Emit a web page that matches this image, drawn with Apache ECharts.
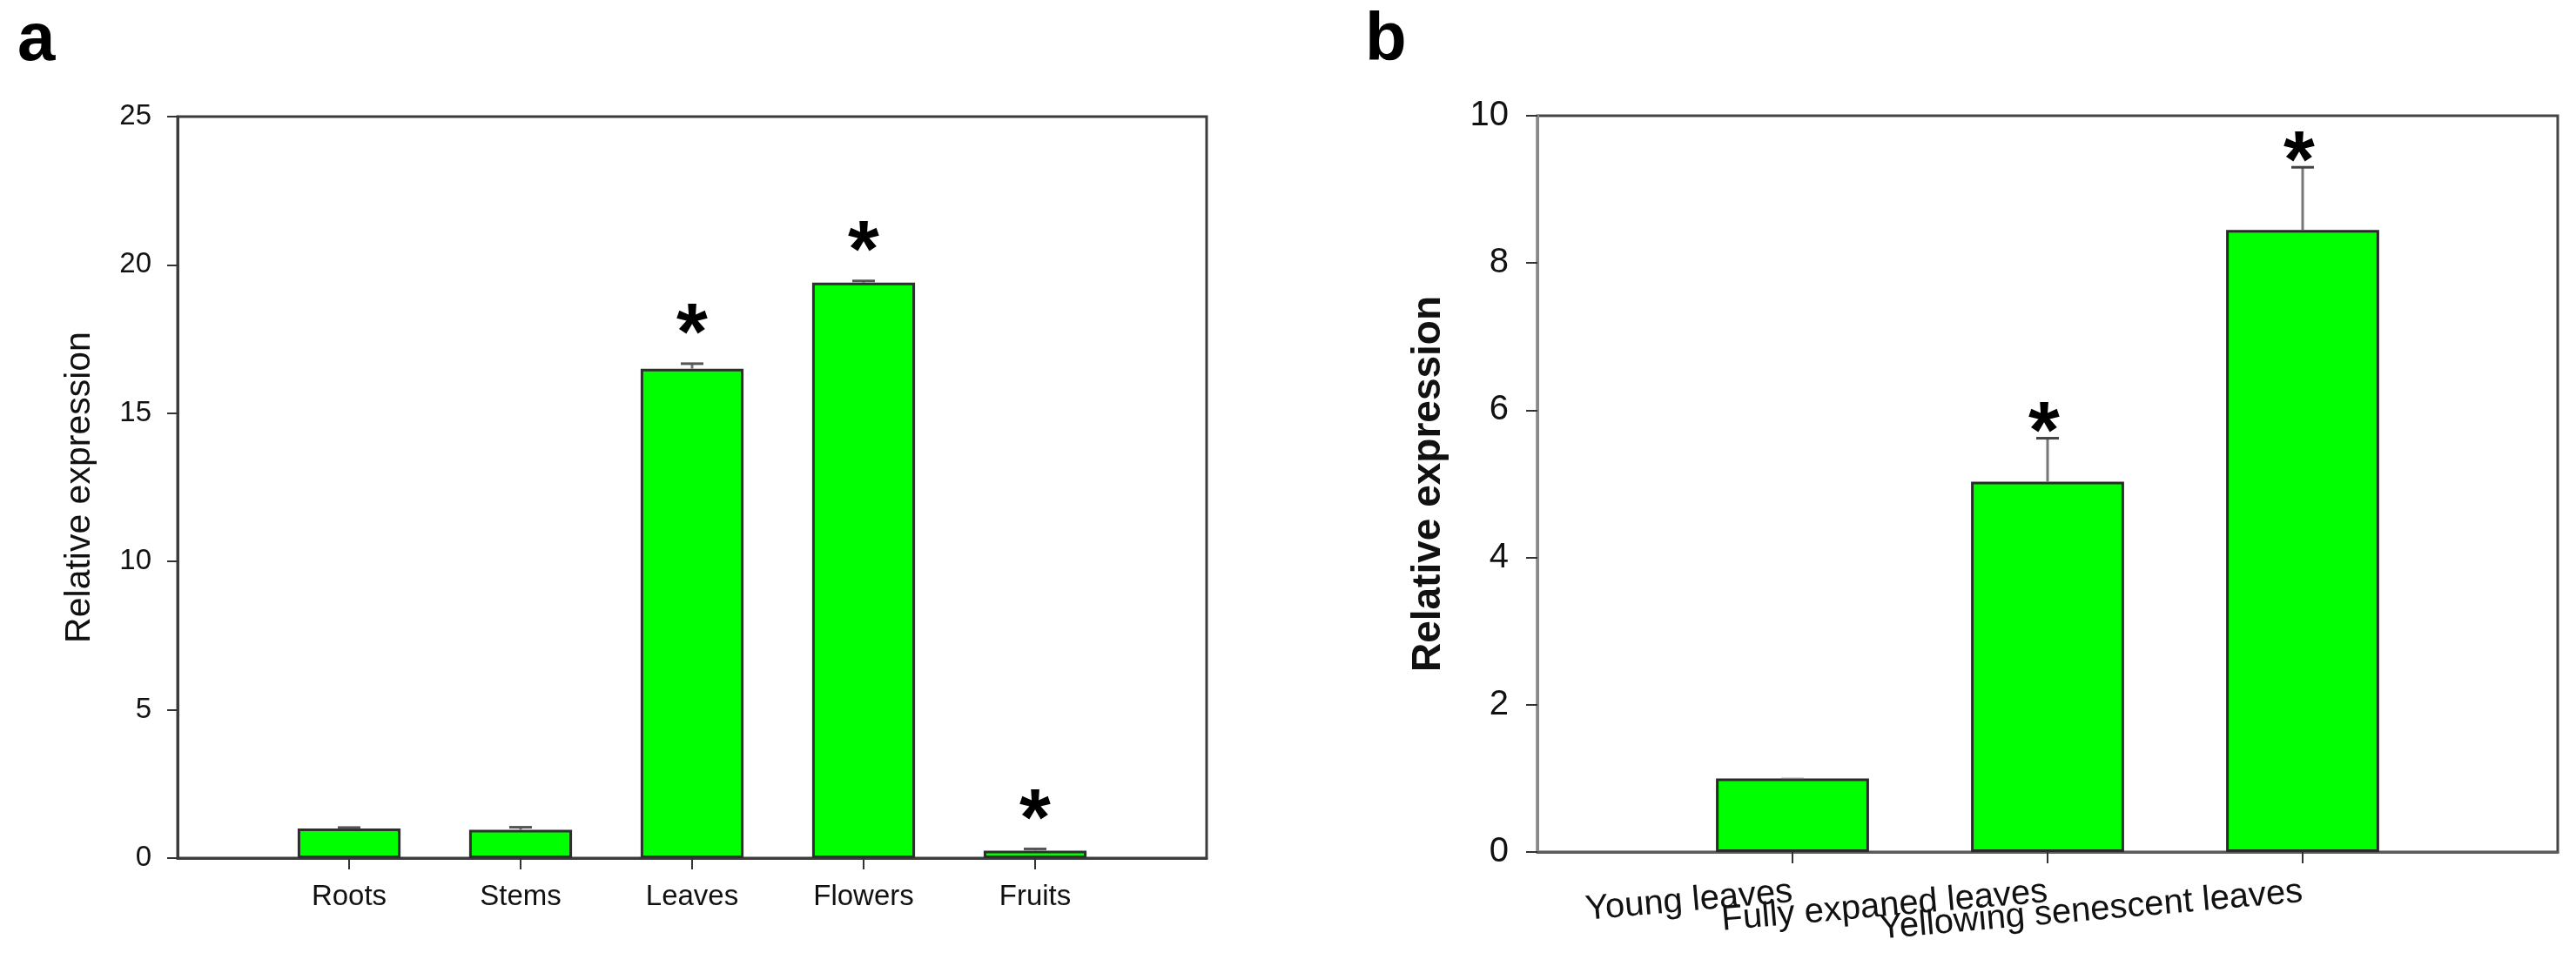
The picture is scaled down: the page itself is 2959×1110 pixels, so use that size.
<!DOCTYPE html>
<html>
<head>
<meta charset="utf-8">
<script src="https://cdn.jsdelivr.net/npm/echarts@6/dist/echarts.min.js"></script>
<style>html,body{margin:0;padding:0;background:#fff}#c{width:2959px;height:1110px}</style>
</head>
<body>
<div id="c"></div>
<script>
// ---- Panel a data ----
const catsA = ['Roots', 'Stems', 'Leaves', 'Flowers', 'Fruits'];
const valsA = [1.0, 0.95, 16.5, 19.4, 0.25];
const errsA = [0.03, 0.09, 0.17, 0.06, 0.06];
const sigA = [0, 0, 1, 1, 1];
const ticksA = [0, 5, 10, 15, 20, 25];

// ---- Panel b data ----
const catsB = ['Young leaves', 'Fully expaned leaves', 'Yellowing senescent leaves'];
const valsB = [1.0, 5.03, 8.45];
const errsB = [0.0, 0.59, 0.85];
const sigB = [0, 1, 1];
const ticksB = [0, 2, 4, 6, 8, 10];

const FONT = "'Liberation Sans', Arial, Helvetica, sans-serif";

// padded category lists: an empty slot at each end
const padA = [''].concat(catsA, ['']);
const padB = [''].concat(catsB, ['']);
const barDataA = ['-'].concat(valsA, ['-']);
const barDataB = ['-'].concat(valsB, ['-']);
const errDataA = catsA.map((c, i) => [i + 1, valsA[i], errsA[i], sigA[i]]);
const errDataB = catsB.map((c, i) => [i + 1, valsB[i], errsB[i], sigB[i]]);

function errRenderer(opts) {
  return function (params, api) {
    const idx = api.value(0), v = api.value(1), e = api.value(2), s = api.value(3);
    const base = api.coord([idx, v]);
    const top = api.coord([idx, v + e]);
    const children = [];
    if (e > 0) {
      children.push({type: 'line', shape: {x1: base[0], y1: base[1], x2: top[0], y2: top[1]},
        style: {stroke: opts.lineColor, lineWidth: 3}});
      children.push({type: 'line', shape: {x1: top[0] - 13, y1: top[1], x2: top[0] + 13, y2: top[1]},
        style: {stroke: opts.capColor, lineWidth: 3}});
    } else {
      children.push({type: 'line', shape: {x1: top[0] - 13, y1: top[1], x2: top[0] + 13, y2: top[1]},
        style: {stroke: 'rgba(120,120,120,0.5)', lineWidth: 2}});
    }
    if (s) {
      children.push({type: 'text', style: {text: '*', x: top[0] + opts.starDx, y: top[1] - opts.starGap,
        textAlign: 'center', textVerticalAlign: 'middle', fill: '#000',
        font: 'bold ' + opts.starSize + 'px ' + FONT}});
    }
    return {type: 'group', children: children};
  };
}

const chart = echarts.init(document.getElementById('c'), null, {renderer: 'canvas'});

const option = {
  backgroundColor: '#ffffff',
  animation: false,
  graphic: [
    {type: 'text', left: 20, top: 8, style: {text: 'a', font: 'bold 78px ' + FONT, fill: '#000'}},
    {type: 'text', left: 1568, top: 8, style: {text: 'b', font: 'bold 78px ' + FONT, fill: '#000'}}
  ],
  grid: [
    {left: 204, top: 134, width: 1182, height: 852, show: true, borderColor: '#3c3c3c', borderWidth: 3, backgroundColor: 'transparent'},
    {left: 1766, top: 133, width: 1172, height: 846, show: true, borderColor: '#444', borderWidth: 3, backgroundColor: 'transparent'}
  ],
  xAxis: [
    {
      type: 'category', gridIndex: 0, data: padA, boundaryGap: false,
      axisLine: {show: true, lineStyle: {color: '#3c3c3c', width: 3}},
      axisTick: {show: true, inside: false, length: 13, lineStyle: {color: '#333', width: 2},
        interval: function (i, v) { return v !== ''; }},
      axisLabel: {show: true, interval: 0, margin: 28, fontSize: 33, fontFamily: FONT, color: '#111'},
      splitLine: {show: false}
    },
    {
      type: 'category', gridIndex: 1, data: padB, boundaryGap: false,
      axisLine: {show: true, lineStyle: {color: '#5a5a5a', width: 3}},
      axisTick: {show: true, inside: false, length: 13, lineStyle: {color: '#333', width: 2},
        interval: function (i, v) { return v !== ''; }},
      axisLabel: {show: true, interval: 0, rotate: 5, margin: 46, fontSize: 40, fontFamily: FONT, color: '#111'},
      splitLine: {show: false}
    }
  ],
  yAxis: [
    {
      type: 'value', gridIndex: 0, min: ticksA[0], max: ticksA[ticksA.length - 1], interval: ticksA[1] - ticksA[0],
      name: 'Relative expression', nameLocation: 'middle', nameGap: 92, nameRotate: 90,
      nameTextStyle: {fontSize: 41, fontFamily: FONT, color: '#111'},
      axisLine: {show: true, lineStyle: {color: '#3c3c3c', width: 3}},
      axisTick: {show: true, inside: false, length: 12, lineStyle: {color: '#333', width: 2}},
      axisLabel: {margin: 30, fontSize: 33, fontFamily: FONT, color: '#111'},
      splitLine: {show: false}
    },
    {
      type: 'value', gridIndex: 1, min: ticksB[0], max: ticksB[ticksB.length - 1], interval: ticksB[1] - ticksB[0],
      name: 'Relative expression', nameLocation: 'middle', nameGap: 102, nameRotate: 90,
      nameTextStyle: {fontSize: 46, fontWeight: 'bold', fontFamily: FONT, color: '#111'},
      axisLine: {show: true, lineStyle: {color: '#888', width: 3}},
      axisTick: {show: true, inside: false, length: 13, lineStyle: {color: '#333', width: 2}},
      axisLabel: {margin: 33, fontSize: 40, fontFamily: FONT, color: '#111'},
      splitLine: {show: false}
    }
  ],
  series: [
    {
      type: 'bar', xAxisIndex: 0, yAxisIndex: 0, data: barDataA, barWidth: '60%',
      itemStyle: {color: '#00ff00', borderColor: '#2e2e2e', borderWidth: 3}, z: 2
    },
    {
      type: 'custom', xAxisIndex: 0, yAxisIndex: 0, data: errDataA, z: 5,
      renderItem: errRenderer({lineColor: '#777', capColor: '#555', starGap: 30, starDx: 0, starSize: 92})
    },
    {
      type: 'bar', xAxisIndex: 1, yAxisIndex: 1, data: barDataB, barWidth: '60%',
      itemStyle: {color: '#00ff00', borderColor: '#2a2a2a', borderWidth: 3}, z: 2
    },
    {
      type: 'custom', xAxisIndex: 1, yAxisIndex: 1, data: errDataB, z: 5,
      renderItem: errRenderer({lineColor: '#777', capColor: '#444', starGap: 3, starDx: -4, starSize: 92})
    }
  ]
};
chart.setOption(option);
</script>
</body>
</html>
